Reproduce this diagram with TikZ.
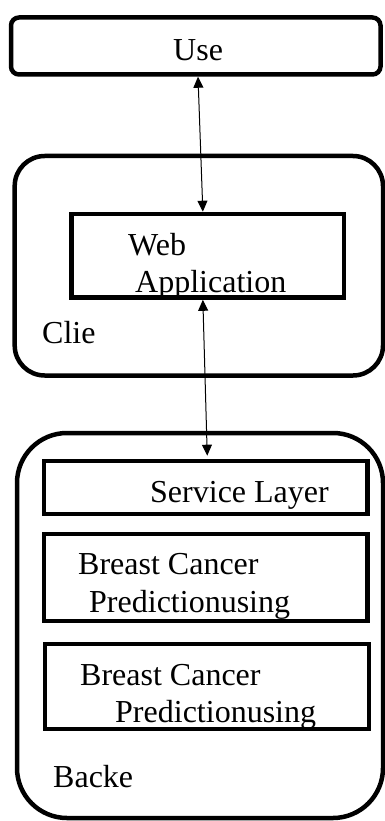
\documentclass[tikz,border=0pt]{standalone}
\usepackage{fontspec}
\setmainfont{Liberation Serif}
\usetikzlibrary{arrows.meta}
\begin{document}
\begin{tikzpicture}[x=1pt,y=-1pt,
  lbl/.style={anchor=base west, inner sep=0pt, font=\fontsize{32}{38}\selectfont},
  tier/.style={draw, line width=4.5pt, rectangle, inner sep=0pt},
  layer/.style={draw, line width=4.6pt, rectangle, inner sep=0pt},
  tip/.style={Triangle[length=11pt,width=10pt]},
  link/.style={line width=1pt, {Triangle[length=11pt,width=10pt]}-{Triangle[length=11pt,width=10pt]}}]
\useasboundingbox (0,0) rectangle (385,821);

% labels (drawn first so the box borders sit on top of descenders)
\node[lbl] (tUse) at (173,61) {Use};
\node[lbl] (tWeb) at (128,255) {Web};
\node[lbl] (tApp) at (135,292) {Application};
\node[lbl] (tClie) at (42,343) {Clie};
\node[lbl] (tSvc) at (150,502) {Service Layer};
\node[lbl] (tBc1a) at (78,574) {Breast Cancer};
\node[lbl] (tBc1b) at (89,612) {Predictionusing};
\node[lbl] (tBc2a) at (80,685) {Breast Cancer};
\node[lbl] (tBc2b) at (115,722) {Predictionusing};
\node[lbl] (tBacke) at (53,787) {Backe};

% outer tiers
\node[tier, rounded corners=8pt, minimum width=369.5pt, minimum height=57pt] (user) at (195.75,46) {};
\node[tier, rounded corners=30pt, minimum width=368.3pt, minimum height=219.5pt] (client) at (198.85,265.75) {};
\node[tier, rounded corners=50pt, minimum width=366pt, minimum height=385pt] (backend) at (200,625.5) {};

% inner layers
\node[layer, minimum width=272.3pt, minimum height=83.5pt] (web) at (207.85,255.75) {};
\node[layer, minimum width=323.5pt, minimum height=53pt] (service) at (205.75,487.5) {};
\node[layer, minimum width=323.5pt, minimum height=87pt] (bc1) at (205.75,577.5) {};
\node[layer, minimum width=324pt, minimum height=85pt] (bc2) at (207,686.5) {};

% connectors
\draw[link] ([xshift=2.25pt]user.south) -- ([xshift=-5pt]web.north);
\draw[link] ([xshift=-5pt]web.south) -- ([xshift=1.5pt,yshift=3pt]service.north);
\end{tikzpicture}
\end{document}
